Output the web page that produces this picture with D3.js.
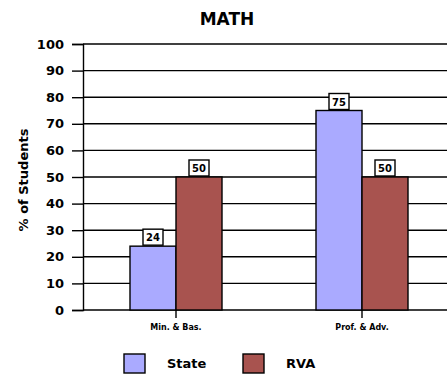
<!DOCTYPE html>
<html>
<head>
<meta charset="utf-8">
<script src="https://cdn.jsdelivr.net/npm/d3@7"></script>
<style>
  html, body { margin: 0; padding: 0; background: #fff; }
  svg { display: block; }
  text { font-family: "DejaVu Sans", sans-serif; font-weight: bold; fill: #000; }
</style>
</head>
<body>
<svg id="chart" width="447" height="379"></svg>
<script>
// Performance levels and share of students per group
const categories = ["Min. & Bas.", "Prof. & Adv."];
const seriesNames = ["State", "RVA"];
const stateValues = [24, 75];
const rvaValues = [50, 50];
const yTicks = [0, 10, 20, 30, 40, 50, 60, 70, 80, 90, 100];
const colors = { State: "#aaaaff", RVA: "#a8534f" };

const svg = d3.select("#chart");
const plot = { left: 83, right: 455, top: 44, bottom: 310 };

const x0 = d3.scalePoint().domain(categories).range([plot.left, plot.right]).padding(0.5);
const x1 = d3.scaleBand().domain(seriesNames).range([-46, 46]);
const y = d3.scaleLinear().domain([0, 100]).range([plot.bottom, plot.top]);

// Title
svg.append("text")
  .attr("x", 227).attr("y", 25)
  .attr("text-anchor", "middle")
  .style("font-size", "17px")
  .text("MATH");

// Horizontal gridlines
svg.append("g")
  .selectAll("line")
  .data(yTicks)
  .join("line")
  .attr("x1", plot.left).attr("x2", 447)
  .attr("y1", d => y(d)).attr("y2", d => y(d))
  .attr("stroke", "#000").attr("stroke-width", 1.4);

// Y axis with outward ticks
const yAxis = d3.axisLeft(y).tickValues(yTicks).tickSize(11).tickPadding(8);
const gy = svg.append("g").attr("transform", `translate(${plot.left},0)`).call(yAxis);
gy.select(".domain").attr("stroke", "#000").attr("stroke-width", 1.4);
gy.selectAll(".tick line").attr("stroke", "#000").attr("stroke-width", 1.4);
gy.selectAll(".tick text")
  .style("font-family", "'DejaVu Sans', sans-serif")
  .style("font-weight", "bold")
  .style("font-size", "13px")
  .attr("fill", "#000");

// Y axis title
svg.append("text")
  .attr("transform", "translate(28,180) rotate(-90)")
  .attr("text-anchor", "middle")
  .style("font-size", "13px")
  .text("% of Students");

// Bars
const rows = categories.map((c, i) => ({
  category: c,
  values: [
    { key: "State", value: stateValues[i] },
    { key: "RVA", value: rvaValues[i] }
  ]
}));

const groups = svg.append("g")
  .selectAll("g")
  .data(rows)
  .join("g")
  .attr("transform", d => `translate(${x0(d.category)},0)`);

groups.selectAll("rect")
  .data(d => d.values)
  .join("rect")
  .attr("x", d => x1(d.key))
  .attr("width", x1.bandwidth())
  .attr("y", d => y(d.value))
  .attr("height", d => y(0) - y(d.value))
  .attr("fill", d => colors[d.key])
  .attr("stroke", "#000")
  .attr("stroke-width", 1.4);

// Value labels in boxed callouts
const labels = groups.selectAll("g.val")
  .data(d => d.values)
  .join("g")
  .attr("class", "val")
  .attr("transform", d => `translate(${x1(d.key) + x1.bandwidth() / 2},${y(d.value)})`);

labels.append("rect")
  .attr("x", -10).attr("y", -17)
  .attr("width", 20).attr("height", 16)
  .attr("fill", "#fff")
  .attr("stroke", "#000")
  .attr("stroke-width", 1.4);

labels.append("text")
  .attr("x", 0).attr("y", -5)
  .attr("text-anchor", "middle")
  .style("font-size", "10px")
  .text(d => d.value);

// Category ticks and labels
const gx = svg.append("g");
gx.selectAll("line")
  .data(categories)
  .join("line")
  .attr("x1", d => x0(d)).attr("x2", d => x0(d))
  .attr("y1", plot.bottom).attr("y2", plot.bottom + 8)
  .attr("stroke", "#000").attr("stroke-width", 1.4);
gx.selectAll("text")
  .data(categories)
  .join("text")
  .attr("x", d => x0(d))
  .attr("y", 330)
  .attr("text-anchor", "middle")
  .style("font-size", "8px")
  .text(d => d);

// Legend
const legendX = [124, 243];
const legend = svg.append("g")
  .selectAll("g")
  .data(seriesNames)
  .join("g")
  .attr("transform", (d, i) => `translate(${legendX[i]},354)`);
legend.append("rect")
  .attr("width", 21).attr("height", 19)
  .attr("fill", d => colors[d])
  .attr("stroke", "#000")
  .attr("stroke-width", 1.4);
legend.append("text")
  .attr("x", 43).attr("y", 14)
  .style("font-size", "13px")
  .text(d => d);
</script>
</body>
</html>
